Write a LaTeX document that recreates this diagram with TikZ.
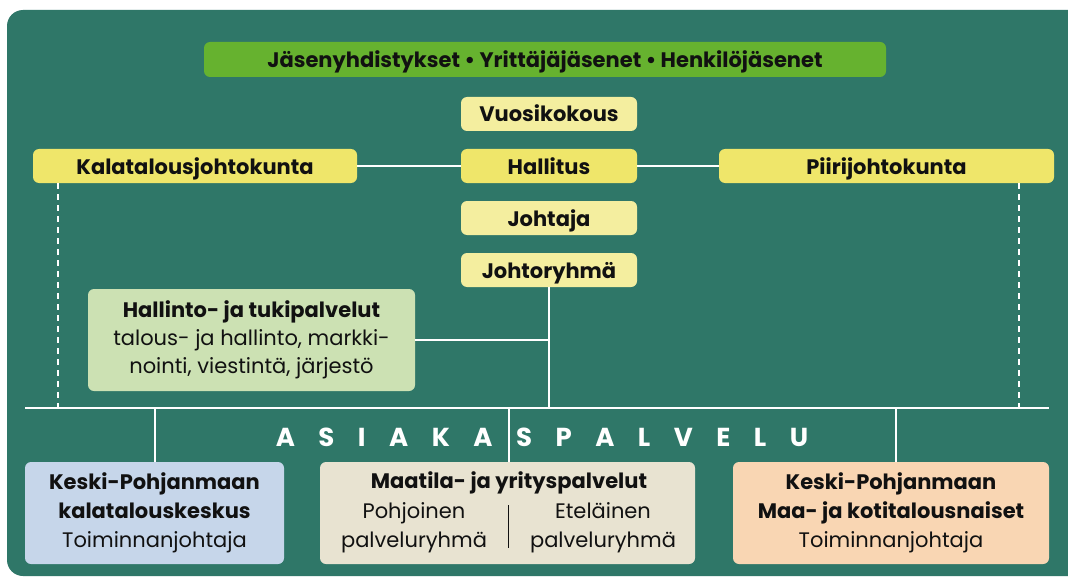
\documentclass[tikz,border=0pt]{standalone}
\usepackage{fontspec}
\setmainfont{Poppins}
\definecolor{panel}{HTML}{2F7768}
\definecolor{topgreen}{HTML}{66B22F}
\definecolor{yel}{HTML}{EFE66A}
\definecolor{ltyel}{HTML}{F4EE9F}
\definecolor{ltgreen}{HTML}{CCE1B3}
\definecolor{ltblue}{HTML}{C6D6EA}
\definecolor{beige}{HTML}{E8E3D1}
\definecolor{peach}{HTML}{F9D6B3}
\definecolor{ink}{HTML}{111111}
\newcommand{\gapl}{\hspace{23.5pt}}
\begin{document}
\begin{tikzpicture}[x=1pt,y=-1pt,
  box/.style={rounded corners=6pt, inner sep=0pt, align=center, text=ink},
  bigf/.style={font=\fontsize{21}{26}\selectfont\bfseries, text height=16pt, text depth=0pt},
  smallbox/.style={box, fill=ltyel, minimum width=176pt, minimum height=34pt, bigf},
  wire/.style={draw=white, line width=1.4pt},
  dashwire/.style={draw=white, line width=1.4pt, dash pattern=on 6pt off 5pt},
  lower/.style={box, minimum height=102pt}
  ]
\useasboundingbox (0,0) rectangle (1068,583);
\fill[white] (0,0) rectangle (1068,583);
\begin{scope}
  \clip (0,0) rectangle (1068,583);
  \fill[panel, rounded corners=16pt] (7,10) rectangle (1110,576);
\end{scope}

% nodes
\node[box, fill=topgreen, minimum width=682pt, minimum height=35pt, bigf] (top) at (545,59.5) {Jäsenyhdistykset • Yrittäjäjäsenet • Henkilöjäsenet};
\node[smallbox] (vuosi) at (549,114) {Vuosikokous};
\node[smallbox, fill=yel] (hall) at (549,166) {Hallitus};
\node[smallbox] (joht) at (549,218) {Johtaja};
\node[smallbox] (jr) at (549,270) {Johtoryhmä};
\node[box, fill=yel, minimum width=324pt, minimum height=34pt, bigf] (kala) at (195,166) {Kalatalousjohtokunta};
\node[box, fill=yel, minimum width=335pt, minimum height=34pt, bigf] (piiri) at (886.5,166) {Piirijohtokunta};
\node[box, fill=ltgreen, minimum width=327pt, minimum height=102pt, font=\fontsize{21}{28}\selectfont] (hallinto) at (251.5,340)
  {\textbf{Hallinto- ja tukipalvelut}\\talous- ja hallinto, markki-\\nointi, viestintä, järjestö};

% coordinates
\coordinate (hl) at (25,408);
\coordinate (hr) at (1049,408);
\coordinate (dl) at (58,408);
\coordinate (dr) at (1019,408);
\coordinate (v1) at (155,408);
\coordinate (v2) at (509,408);
\coordinate (v3) at (896,408);

% lower boxes
\node[lower, fill=ltblue, minimum width=259pt, font=\fontsize{21}{29}\selectfont] (blue) at (154.5,513)
  {\textbf{Keski-Pohjanmaan}\\\textbf{kalatalouskeskus}\\Toiminnanjohtaja};
\node[lower, fill=beige, minimum width=375pt] (beige) at (507.5,513) {};
\node[text=ink, font=\fontsize{21}{26}\selectfont\bfseries] (btitle) at (509,483) {Maatila- ja yrityspalvelut};
\node[text=ink, align=center, font=\fontsize{21}{29}\selectfont] (bleft) at (414,528) {Pohjoinen\\palveluryhmä};
\node[text=ink, align=center, font=\fontsize{21}{29}\selectfont] (bright) at (603,528) {Eteläinen\\palveluryhmä};
\coordinate (divt) at (508,505);
\coordinate (divb) at (508,548);
\node[lower, fill=peach, minimum width=316pt, font=\fontsize{21}{29}\selectfont] (peachb) at (891,513)
  {\textbf{Keski-Pohjanmaan}\\\textbf{Maa- ja kotitalousnaiset}\\Toiminnanjohtaja};

% connectors
\draw[wire] (kala.east) -- (hall.west);
\draw[wire] (hall.east) -- (piiri.west);
\draw[wire] (jr.south) -- (jr.south |- hl);
\draw[wire] (hallinto.east) -- (hallinto.east -| jr.south);
\draw[wire] (hl) -- (hr);
\draw[dashwire] (dl |- kala.south) -- (dl);
\draw[dashwire] (dr |- piiri.south) -- (dr);
\draw[wire] (v1) -- (v1 |- blue.north);
\draw[wire] (v2) -- (v2 |- beige.north);
\draw[wire] (v3) -- (v3 |- peachb.north);
\draw[draw=ink, line width=1pt] (divt) -- (divb);

\node[text=white, font=\fontsize{26}{30}\selectfont\bfseries] (asiakas) at (542,437)
  {A\gapl S\gapl I\gapl A\gapl K\gapl A\gapl S\gapl P\gapl A\gapl L\gapl V\gapl E\gapl L\gapl U};
\end{tikzpicture}
\end{document}
